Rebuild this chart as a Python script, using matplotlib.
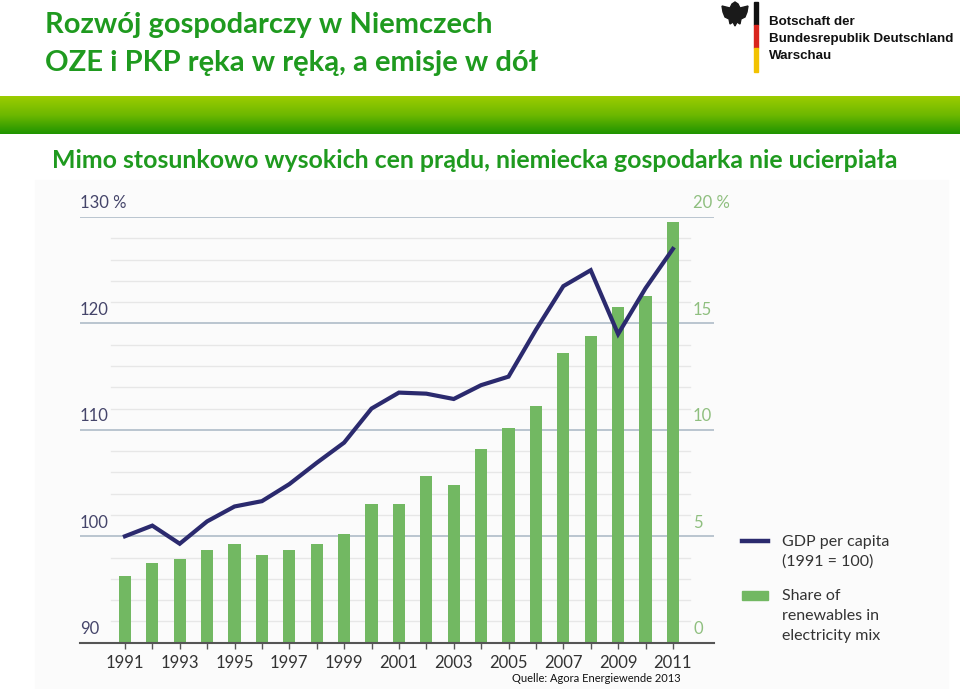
import numpy as np
import matplotlib
matplotlib.use("Agg")
import matplotlib.pyplot as plt
import matplotlib.transforms as mtransforms
from matplotlib.patches import Rectangle, Polygon, Ellipse

# dane
lata = list(range(1991, 2012))
pkb = [100.0, 101.0, 99.3, 101.4, 102.8, 103.3, 104.9, 106.9, 108.8, 112.0, 113.5,
       113.4, 112.9, 114.2, 115.0, 119.4, 123.5, 125.0, 119.0, 123.3, 127.0]
oze = [3.15, 3.73, 3.93, 4.34, 4.63, 4.13, 4.34, 4.63, 5.12, 6.53, 6.53,
       7.81, 7.42, 9.11, 10.11, 11.11, 13.59, 14.40, 15.77, 16.28, 19.75]
lewe_etykiety = ["90", "100", "110", "120", "130 %"]
prawe_etykiety = ["0", "5", "10", "15", "20 %"]

W, H = 960, 689
ZIELONY = "#1f9a1f"
GRANAT = "#2b2a6e"
ZIELONY_SLUPKI = "#72b862"
waski = "Lato"


def fx(x):
    return x / W


def fy(y):
    return 1 - y / H


fig = plt.figure(figsize=(9.6, 6.89), dpi=100)
fig.patch.set_facecolor("white")

# naglowek
fig.text(fx(45), fy(25), "Rozwój gospodarczy w Niemczech", color=ZIELONY,
         fontsize=21, fontweight="bold", family="Lato", va="center", ha="left")
fig.text(fx(45), fy(63), "OZE i PKP ręka w ręką, a emisje w dół", color=ZIELONY,
         fontsize=21, fontweight="bold", family="Lato", va="center", ha="left")

# logo ambasady
for y0, y1, c in [(2, 25, "#111111"), (25, 48, "#d9251d"), (48, 72, "#f2c200")]:
    fig.patches.append(Rectangle((fx(754), fy(y1)), fx(4), (y1 - y0) / H,
                                 transform=fig.transFigure, color=c))
orzel = [(735, 2), (738, 4), (740, 8), (748, 6), (747, 12), (745, 17), (741, 19),
         (740, 24), (737, 22), (735, 26), (733, 22), (730, 24), (729, 19), (725, 17),
         (723, 12), (722, 6), (730, 8), (732, 4)]
fig.patches.append(Polygon([(fx(x), fy(y)) for x, y in orzel], closed=True,
                           transform=fig.transFigure, color="#1a1a1a"))
for i, t in enumerate(["Botschaft der", "Bundesrepublik Deutschland", "Warschau"]):
    fig.text(fx(769), fy(22 + 17 * i), t, color="#111111", fontsize=9.6,
             fontweight="bold", family="Liberation Sans", va="center", ha="left")

# zielony pasek z gradientem
pasek = fig.add_axes([0, fy(134), 1, 38 / H])
pasek.set_axis_off()
grad = np.linspace(0, 1, 100).reshape(-1, 1)
cmap = matplotlib.colors.LinearSegmentedColormap.from_list(
    "pasek", ["#9ccc00", "#6db800", "#1f9400"])
pasek.imshow(grad, aspect="auto", cmap=cmap, extent=[0, 1, 0, 1])

fig.text(fx(52), fy(160), "Mimo stosunkowo wysokich cen prądu, niemiecka gospodarka nie ucierpiała",
         color=ZIELONY, fontsize=17.9, fontweight="bold", family="Lato",
         va="center", ha="left")

# tlo wykresu
fig.patches.append(Rectangle((fx(35), 0), fx(948 - 35), 1 - 180 / H,
                             transform=fig.transFigure, color="#fbfbfb", zorder=-5))

# wykres
ax = fig.add_axes([fx(80), fy(642.7), fx(634), (642.7 - 217) / H])
ax.set_facecolor("none")
ax.set_xlim(1989.36, 2012.5)
ax.set_ylim(0, 20)

for v in range(1, 20):
    if v % 5 == 0:
        ax.axhline(v, color="#b5c1cc", lw=1.3, zorder=0)
    else:
        ax.axhline(v, xmin=0.049, xmax=0.962, color="#e7e7e7", lw=1.0, zorder=0)
ax.axhline(20, color="#b5c1cc", lw=1.3, zorder=0)

ax.bar(lata, oze, width=0.44, color=ZIELONY_SLUPKI, zorder=2)

for s in ["top", "left", "right"]:
    ax.spines[s].set_visible(False)
ax.spines["bottom"].set_color("#555555")
ax.spines["bottom"].set_linewidth(1.5)
ax.spines["bottom"].set_zorder(3)
ax.set_yticks([])
ax.set_xticks(lata[::2])
ax.set_xticks(lata[1::2], minor=True)
ax.set_xticklabels([str(r) for r in lata[::2]], family=waski, fontsize=12, color="#333333")
ax.tick_params(axis="x", which="both", direction="out", length=4, width=1,
               color="#555555", pad=5)

trans = mtransforms.blended_transform_factory(ax.transAxes, ax.transData)
for i, (l, p) in enumerate(zip(lewe_etykiety, prawe_etykiety)):
    ax.annotate(l, (0, i * 5), xycoords=trans, xytext=(0, 4), textcoords="offset points",
                ha="left", va="bottom", fontsize=12, family=waski, color="#45456a")
    ax.annotate(p, (0.967, i * 5), xycoords=trans, xytext=(0, 4), textcoords="offset points",
                ha="left", va="bottom", fontsize=12, family=waski, color="#8fbf7f")

ax2 = ax.twinx()
ax2.set_ylim(90, 130)
ax2.plot(lata, pkb, color=GRANAT, lw=3.0, solid_joinstyle="miter", zorder=4)
ax2.set_axis_off()

# legenda
fig.add_artist(matplotlib.lines.Line2D([fx(742), fx(768)], [fy(541), fy(541)],
                                       color=GRANAT, lw=3.2))
fig.patches.append(Rectangle((fx(742), fy(600)), fx(26), 9 / H, transform=fig.transFigure,
                             color=ZIELONY_SLUPKI))
leg_txt = [("GDP per capita", 542), ("(1991 = 100)", 562), ("Share of", 596),
           ("renewables in", 616), ("electricity mix", 636)]
for t, y in leg_txt:
    fig.text(fx(782), fy(y), t, family=waski, fontsize=11.5, color="#333333",
             va="center", ha="left")

fig.text(fx(512), fy(679), "Quelle: Agora Energiewende 2013", family="Lato",
         fontsize=8, color="#111111", va="center", ha="left")

fig.savefig("out.png", dpi=100)
